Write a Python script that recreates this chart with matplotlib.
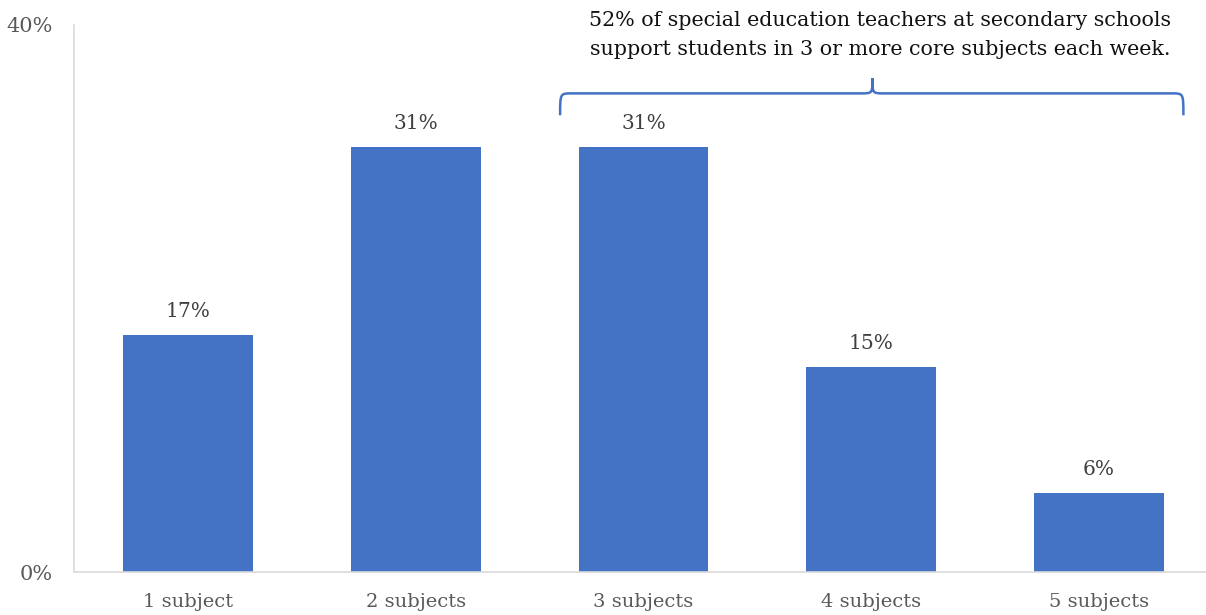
import matplotlib
matplotlib.use("Agg")
import matplotlib.pyplot as plt
from matplotlib.path import Path
from matplotlib.patches import PathPatch

categories = ["1 subject", "2 subjects", "3 subjects", "4 subjects", "5 subjects"]
values = [17.3, 31.1, 31.1, 15.0, 5.8]
value_labels = ["17%", "31%", "31%", "15%", "6%"]
y_ticks = [0, 40]
y_tick_labels = ["0%", "40%"]
annotation = "52% of special education teachers at secondary schools\nsupport students in 3 or more core subjects each week."

plt.rcParams['font.family'] = ['DejaVu Serif']

W, H = 1206, 615
fig = plt.figure(figsize=(W / 100, H / 100), dpi=100)
ax = fig.add_axes([74 / W, 1 - 572 / H, (1213 - 74) / W, (572 - 25) / H])

bar_color = "#4472C4"
x = list(range(len(categories)))
ax.bar(x, values, width=0.57, color=bar_color, zorder=2)
ax.set_xlim(-0.5, 4.5)
ax.set_ylim(0, 40)

for xi, v, lab in zip(x, values, value_labels):
    ax.annotate(lab, (xi, v), xytext=(0, 17), textcoords="offset points",
                ha="center", va="center", fontsize=14.5, color="#404040")

ax.set_xticks(x)
ax.set_xticklabels(categories, fontsize=14, color="#595959")
ax.set_yticks(y_ticks)
ax.set_yticklabels(y_tick_labels, fontsize=15, color="#595959")
ax.tick_params(axis="both", length=0)
ax.tick_params(axis="x", pad=15)
ax.tick_params(axis="y", pad=15)

for s in ["top", "right"]:
    ax.spines[s].set_visible(False)
for s in ["left", "bottom"]:
    ax.spines[s].set_color("#D9D9D9")
    ax.spines[s].set_linewidth(1.2)

# Brace over categories 3-5
x0, x1, xm = 1.634, 4.37, 3.005
yb, ye, yt = 35.0, 33.4, 36.1
dx = 0.05
verts = [
    (x0, ye), (x0, yb), (x0, yb), (x0 + dx, yb),
    (xm - dx, yb), (xm, yb), (xm, yb), (xm, yt),
    (xm, yb), (xm, yb), (xm + dx, yb),
    (x1 - dx, yb), (x1, yb), (x1, yb), (x1, ye),
]
codes = [Path.MOVETO, Path.CURVE4, Path.CURVE4, Path.CURVE4,
         Path.LINETO, Path.CURVE4, Path.CURVE4, Path.CURVE4,
         Path.CURVE4, Path.CURVE4, Path.CURVE4,
         Path.LINETO, Path.CURVE4, Path.CURVE4, Path.CURVE4]
brace = PathPatch(Path(verts, codes), facecolor="none", edgecolor=bar_color,
                  linewidth=1.8, clip_on=False, zorder=3)
ax.add_patch(brace)

ax.text(3.038, 39.27, annotation, ha="center", va="center", fontsize=14.9,
        color="#111111", linespacing=1.65, clip_on=False)

fig.savefig("out.png", dpi=100)
